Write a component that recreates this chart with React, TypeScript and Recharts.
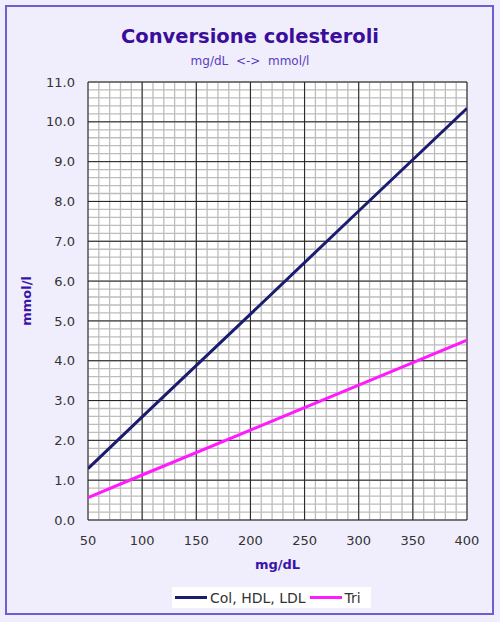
import { LineChart, Line, XAxis, YAxis, CartesianGrid, Legend, Label } from "recharts";

// mg/dL values and their conversions in mmol/l
const mgdl = [50, 100, 200, 300, 400];
const colMmol = [1.29, 2.59, 5.17, 7.76, 10.34];
const triMmol = [0.56, 1.13, 2.26, 3.39, 4.52];

const xTicks = [50, 100, 150, 200, 250, 300, 350, 400];
const yTicks = [0, 1, 2, 3, 4, 5, 6, 7, 8, 9, 10, 11];

// grid positions
const xMajor = [100, 150, 200, 250, 300, 350];
const yMajor = [1, 2, 3, 4, 5, 6, 7, 8, 9, 10];
const xMinor = Array.from({ length: 36 }, (_, i) => 50 + i * 10);
const yMinor = Array.from({ length: 56 }, (_, i) => Math.round(i * 2) / 10);

const data = mgdl.map((mg, i) => ({ mg, col: colMmol[i], tri: triMmol[i] }));

const FONT = "'DejaVu Sans', Verdana, sans-serif";

function ChartLegend({ payload }: any) {
  return (
    <div
      style={{
        display: "flex",
        alignItems: "center",
        background: "#fff",
        height: 21,
        padding: "0 6px 0 3px",
        fontFamily: FONT,
        fontSize: 14,
        color: "#333",
      }}
    >
      {(payload || []).map((p: any) => (
        <div key={p.value} style={{ display: "flex", alignItems: "center", marginRight: 4 }}>
          <span style={{ display: "inline-block", width: 32, height: 3, background: p.color, marginRight: 3 }} />
          <span>{p.value}</span>
        </div>
      ))}
    </div>
  );
}

export default function App() {
  return (
    <div
      style={{
        position: "absolute",
        left: 0,
        top: 0,
        width: 500,
        height: 622,
        background: "#f0eefc",
        fontFamily: FONT,
      }}
    >
      <div
        style={{
          position: "absolute",
          left: 5,
          top: 5,
          width: 485,
          height: 606,
          border: "2px solid #6c5fcf",
        }}
      />
      <div
        style={{
          position: "absolute",
          top: 25,
          width: 500,
          textAlign: "center",
          fontSize: 19.5,
          fontWeight: "bold",
          color: "#3a0e9a",
        }}
      >
        Conversione colesteroli
      </div>
      <div
        style={{
          position: "absolute",
          top: 54,
          width: 500,
          textAlign: "center",
          fontSize: 12,
          color: "#5a3cc0",
          whiteSpace: "pre",
        }}
      >
        {"mg/dL  <->  mmol/l"}
      </div>
      <div style={{ position: "absolute", left: 0, top: 0 }}>
        <LineChart
          width={500}
          height={622}
          data={data}
          margin={{ top: 82, right: 33, left: 28, bottom: 21 }}
          style={{ fontFamily: FONT }}
        >
          <XAxis xAxisId="minor" dataKey="mg" type="number" domain={[50, 400]} ticks={xMinor} interval={0} hide allowDataOverflow />
          <YAxis yAxisId="minor" type="number" domain={[0, 11]} ticks={yMinor} interval={0} hide allowDataOverflow />
          <XAxis xAxisId="major" dataKey="mg" type="number" domain={[50, 400]} ticks={xMajor} interval={0} hide allowDataOverflow />
          <YAxis yAxisId="major" type="number" domain={[0, 11]} ticks={yMajor} interval={0} hide allowDataOverflow />
          <CartesianGrid xAxisId="minor" yAxisId="minor" stroke="#bdbdbd" strokeWidth={1.3} fill="#fff" />
          <CartesianGrid xAxisId="major" yAxisId="major" stroke="#222" strokeWidth={1} />
          <XAxis
            dataKey="mg"
            type="number"
            domain={[50, 400]}
            ticks={xTicks}
            interval={0}
            height={60}
            tickLine={false}
            axisLine={false}
            tickMargin={10}
            tick={{ fill: "#333", fontSize: 13 }}
            allowDataOverflow
          >
            <Label
              value="mg/dL"
              position="insideTop"
              offset={40}
              style={{ fill: "#3a14a8", fontWeight: "bold", fontSize: 13 }}
            />
          </XAxis>
          <YAxis
            type="number"
            domain={[0, 11]}
            ticks={yTicks}
            interval={0}
            width={60}
            tickLine={false}
            axisLine={false}
            tickMargin={7}
            tickFormatter={(v: number) => v.toFixed(1)}
            tick={{ fill: "#333", fontSize: 13 }}
            allowDataOverflow
          >
            <Label
              value="mmol/l"
              angle={-90}
              position="insideLeft"
              offset={-2}
              style={{ fill: "#3a14a8", fontWeight: "bold", fontSize: 13, textAnchor: "middle" }}
            />
          </YAxis>
          <Legend
            verticalAlign="bottom"
            content={ChartLegend}
            wrapperStyle={{ left: 172, width: "auto", bottom: 14 }}
          />
          <Line
            dataKey="col"
            name="Col, HDL, LDL"
            stroke="#1b1b70"
            strokeWidth={3}
            dot={false}
            isAnimationActive={false}
          />
          <Line
            dataKey="tri"
            name="Tri"
            stroke="#ff1aff"
            strokeWidth={3}
            dot={false}
            isAnimationActive={false}
          />
        </LineChart>
      </div>
    </div>
  );
}
